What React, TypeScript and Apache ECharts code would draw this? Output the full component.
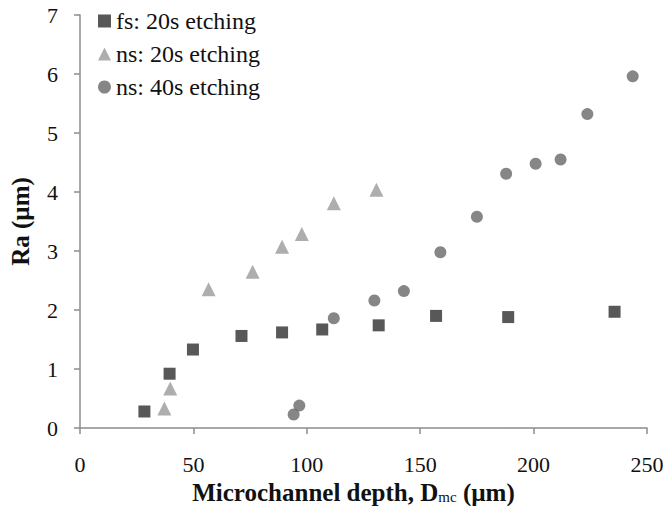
import React, { useEffect, useRef } from "react";
import * as echarts from "echarts";

const fsDepth = [28.4, 39.5, 49.8, 71.2, 89.1, 106.8, 131.7, 157.0, 188.8, 235.7];
const fsRa = [0.28, 0.92, 1.33, 1.56, 1.62, 1.67, 1.74, 1.90, 1.88, 1.97];

const ns20Depth = [37.2, 39.8, 56.7, 76.1, 89.1, 97.8, 111.9, 130.7];
const ns20Ra = [0.33, 0.67, 2.35, 2.65, 3.07, 3.29, 3.81, 4.04];

const ns40Depth = [94.2, 96.7, 111.9, 129.8, 142.8, 158.9, 175.0, 187.9, 200.9, 211.9, 223.7, 243.7];
const ns40Ra = [0.23, 0.38, 1.86, 2.16, 2.32, 2.98, 3.58, 4.31, 4.48, 4.55, 5.32, 5.96];

const seriesNames = ["fs: 20s etching", "ns: 20s etching", "ns: 40s etching"];
const xTicks = [0, 50, 100, 150, 200, 250];
const yTicks = [0, 1, 2, 3, 4, 5, 6, 7];

const FONT = "'Liberation Serif', 'Times New Roman', serif";

const zip = (xs: number[], ys: number[]) => xs.map((x, i) => [x, ys[i]]);

export default function App() {
  const ref = useRef<HTMLDivElement>(null);
  useEffect(() => {
    if (!ref.current) return;
    const chart = echarts.init(ref.current, null, { renderer: "svg" });
    const axisColor = "#8c8c8c";
    chart.setOption({
      animation: false,
      backgroundColor: "#ffffff",
      textStyle: { fontFamily: FONT },
      grid: {
        left: 80,
        right: 16,
        top: 15,
        bottom: 78,
        containLabel: false,
        outerBoundsMode: "none",
      },
      legend: {
        orient: "vertical",
        left: 93,
        top: 4,
        itemWidth: 13,
        itemHeight: 13,
        itemGap: 9,
        textStyle: { fontFamily: FONT, fontSize: 24, color: "#111" },
        data: [
          { name: seriesNames[0], icon: "rect" },
          { name: seriesNames[1], icon: "triangle" },
          { name: seriesNames[2], icon: "circle" },
        ],
      },
      xAxis: {
        type: "value",
        min: xTicks[0],
        max: xTicks[xTicks.length - 1],
        interval: 50,
        splitLine: { show: false },
        axisLine: { show: true, lineStyle: { color: axisColor, width: 1.5 } },
        axisTick: { show: true, inside: false, length: 6, lineStyle: { color: axisColor, width: 1.5 } },
        axisLabel: { fontFamily: FONT, fontSize: 22, color: "#111", margin: 25 },
        name: "Microchannel depth, D{sub|mc} (µm)",
        nameLocation: "middle",
        nameGap: 42,
        nameTextStyle: {
          fontFamily: FONT,
          fontSize: 25,
          fontWeight: "bold",
          color: "#111",
          padding: [0, 20, 0, 0],
          rich: {
            sub: {
              fontFamily: FONT,
              fontSize: 15,
              fontWeight: "normal",
              color: "#111",
              padding: [10, 0, 0, 0],
            },
          },
        },
      },
      yAxis: {
        type: "value",
        min: yTicks[0],
        max: yTicks[yTicks.length - 1],
        interval: 1,
        splitLine: { show: false },
        axisLine: { show: true, lineStyle: { color: axisColor, width: 1.5 } },
        axisTick: { show: true, inside: false, length: 6, lineStyle: { color: axisColor, width: 1.5 } },
        axisLabel: { fontFamily: FONT, fontSize: 22, color: "#111", margin: 22 },
        name: "Ra (µm)",
        nameLocation: "middle",
        nameRotate: 90,
        nameGap: 47,
        nameTextStyle: { fontFamily: FONT, fontSize: 25, fontWeight: "bold", color: "#111" },
      },
      series: [
        {
          name: seriesNames[0],
          type: "scatter",
          symbol: "rect",
          symbolSize: 12,
          itemStyle: { color: "#2e2e2e" },
          data: zip(fsDepth, fsRa),
        },
        {
          name: seriesNames[1],
          type: "scatter",
          symbol: "triangle",
          symbolSize: 14,
          itemStyle: { color: "#9a9a9a" },
          data: zip(ns20Depth, ns20Ra),
        },
        {
          name: seriesNames[2],
          type: "scatter",
          symbol: "circle",
          symbolSize: 12,
          itemStyle: { color: "#686868" },
          data: zip(ns40Depth, ns40Ra),
        },
      ],
    });
    return () => chart.dispose();
  }, []);
  return (
    <div
      ref={ref}
      style={{ position: "absolute", left: 0, top: 0, width: 663, height: 506 }}
    />
  );
}
